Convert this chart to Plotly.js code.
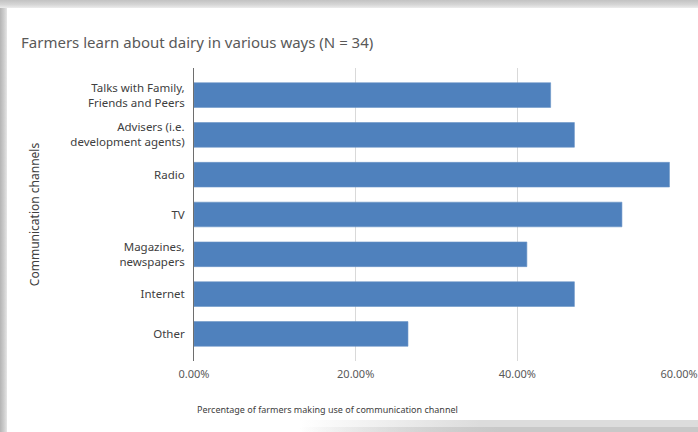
<!DOCTYPE html>
<html>
<head>
<meta charset="utf-8">
<script src="https://cdn.plot.ly/plotly-3.0.1.min.js"></script>
<style>
  html, body { margin: 0; padding: 0; background: #ffffff; }
  #wrap { position: relative; width: 698px; height: 432px; overflow: hidden; }
  .deco { position: absolute; z-index: 0; }
  #leftb { left: 0; top: 0; width: 7px; height: 432px; background: linear-gradient(to right, #b4b4b4, #cfcfcf 60%, #e6e6e6); }
  #topb { left: 0; top: 0; width: 698px; height: 8px; background: linear-gradient(to bottom, #c2c2c2, #d6d6d6 60%, #ececec); }
  #botb { left: 300px; top: 420px; width: 398px; height: 12px; background: linear-gradient(to right, rgba(255,255,255,1), rgba(220,220,220,1) 45%); }
  #botb2 { left: 300px; top: 427px; width: 398px; height: 5px; background: linear-gradient(to right, rgba(255,255,255,0), rgba(200,200,200,1) 50%); }
  #chart { position: absolute; left: 0; top: 0; width: 698px; height: 432px; z-index: 1; }
</style>
</head>
<body>
<div id="wrap">
  <div class="deco" id="leftb"></div>
  <div class="deco" id="topb"></div>
  <div class="deco" id="botb"></div>
  <div class="deco" id="botb2"></div>
  <div id="chart"></div>
</div>
<script>
const categories = [
  "Talks with Family,<br>Friends and Peers",
  "Advisers (i.e.<br>development agents)",
  "Radio",
  "TV",
  "Magazines,<br>newspapers",
  "Internet",
  "Other"
];
const percentages = [0.4412, 0.4706, 0.5882, 0.5294, 0.4118, 0.4706, 0.2647];
const xTickValues = [0, 0.2, 0.4, 0.6];
const chartTitle = "Farmers learn about dairy in various ways (N = 34)";
const xTitle = "Percentage of farmers making use of communication channel";
const yTitle = "Communication channels";

const FONT = "'Noto Sans', 'Open Sans', sans-serif";
const GREY = "#595959";

const trace = {
  type: "bar",
  orientation: "h",
  x: percentages,
  y: categories,
  marker: { color: "#4f81bd", line: { color: "#6a93c6", width: 0.6 } },
  hoverinfo: "x+y"
};

const n = categories.length;
const layout = {
  width: 698,
  height: 432,
  paper_bgcolor: "rgba(0,0,0,0)",
  plot_bgcolor: "rgba(0,0,0,0)",
  margin: { l: 194, r: 19, t: 68, b: 71, pad: 0 },
  showlegend: false,
  bargap: 0.38,
  font: { family: FONT, color: GREY, size: 11 },
  title: {
    text: chartTitle,
    font: { family: FONT, size: 15, color: GREY },
    x: 21 / 698, xref: "container", xanchor: "left",
    y: 1, yref: "container", yanchor: "top",
    pad: { l: 0, t: 37 }
  },
  xaxis: {
    range: [0, 0.6],
    tickvals: xTickValues,
    tickformat: ".2%",
    showgrid: true,
    gridcolor: "#d9d9d9",
    gridwidth: 1,
    zeroline: false,
    showline: false,
    ticks: "",
    ticklabelstandoff: 5,
    tickfont: { family: FONT, size: 11, color: GREY },
    fixedrange: true
  },
  yaxis: {
    type: "category",
    categoryorder: "array",
    categoryarray: categories,
    range: [n - 1 + 0.68, -0.68],
    showgrid: false,
    zeroline: false,
    showline: true,
    linecolor: "#6e6e6e",
    linewidth: 1,
    ticks: "",
    ticklabelstandoff: 6,
    tickfont: { family: FONT, size: 11.5, color: "#404040" },
    title: { text: yTitle, font: { family: FONT, size: 12, color: "#404040" }, standoff: 28 },
    fixedrange: true
  },
  annotations: [{
    text: xTitle,
    xref: "paper", yref: "paper",
    x: (327 - 194) / (698 - 194 - 19), y: -(409 - 361) / (432 - 68 - 71),
    xanchor: "center", yanchor: "middle",
    showarrow: false,
    font: { family: FONT, size: 9, color: "#404040" }
  }]
};

Plotly.newPlot("chart", [trace], layout, { displayModeBar: false, staticPlot: true });
</script>
</body>
</html>
